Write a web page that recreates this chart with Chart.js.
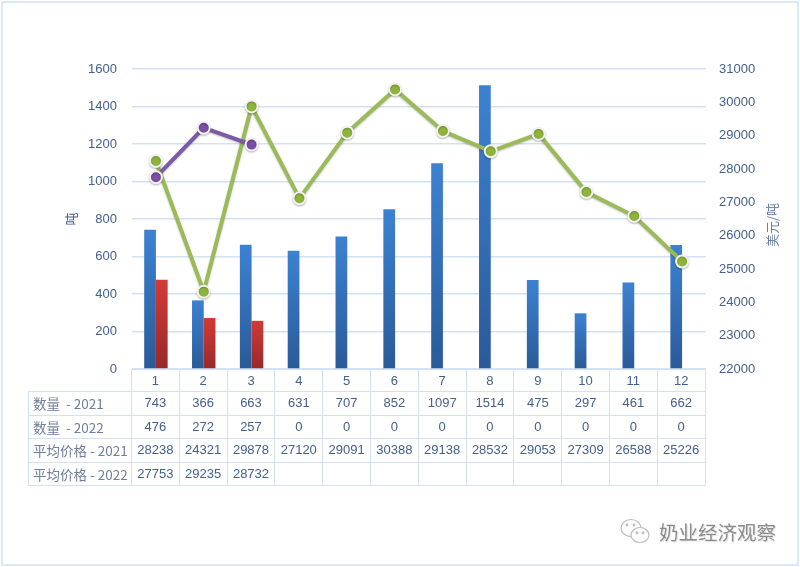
<!DOCTYPE html>
<html>
<head>
<meta charset="utf-8">
<script src="https://cdn.jsdelivr.net/npm/chart.js@4"></script>
<style>
html,body{margin:0;padding:0;background:#fff}
#wrap{position:relative;width:800px;height:567px;overflow:hidden}
#frame{position:absolute;left:1px;top:1px;width:794px;height:561px;border:2px solid #dce8f6}
#c{position:absolute;left:0;top:0}
#tbl{position:absolute;left:28px;top:369px;border-collapse:collapse;table-layout:fixed;font:13px/16px "Liberation Sans",sans-serif;color:#44608c}
#tbl td{border:1.5px solid #d3e2f3;text-align:center;padding:0;height:23.6px;width:47.8px;box-sizing:border-box;overflow:hidden;white-space:nowrap}
#tbl tr:first-child td{height:22px}
#tbl td.h{width:103px;color:#6f7f97;font-family:"Noto Sans CJK SC",sans-serif;font-size:13.5px;line-height:16px;text-align:left;white-space:pre;padding:0 0 0 4px}
#tbl td.e{border-top:0;border-left:0}
#rt{position:absolute;left:742px;top:215px;width:60px;text-align:center;transform:rotate(-90deg);color:#6a82a6;font:13px "Noto Sans CJK SC",sans-serif;line-height:20px}
#mark{position:absolute;left:620px;top:517px;display:flex;align-items:center;color:#8c8c8c;font:19.5px "Noto Sans CJK SC",sans-serif;text-shadow:1px 1px 1px #ddd}
#mark svg{margin-right:7px}
</style>
</head>
<body>
<div id="wrap">
<div id="frame"></div>
<canvas id="c" width="800" height="567"></canvas>
<div id="rt">美元/吨</div>
<table id="tbl"></table>
<div id="mark">
<svg width="32" height="28" viewBox="0 0 32 28" fill="#fff" stroke="#bdbdbd" stroke-width="1.2"><ellipse cx="11" cy="10" rx="10" ry="8.5"/><ellipse cx="20" cy="17" rx="9" ry="7.5"/><circle cx="17" cy="15" r=".8"/><circle cx="23" cy="15" r=".8"/><circle cx="7" cy="7" r=".8"/><circle cx="14" cy="7" r=".8"/></svg>
<span>奶业经济观察</span>
</div>
</div>
<script>
const months=['1','2','3','4','5','6','7','8','9','10','11','12'];
const qty2021=[743,366,663,631,707,852,1097,1514,475,297,461,662];
const qty2022=[476,272,257,0,0,0,0,0,0,0,0,0];
const price2021=[28238,24321,29878,27120,29091,30388,29138,28532,29053,27309,26588,25226];
const price2022=[27753,29235,28732,null,null,null,null,null,null,null,null,null];

// 막대 그라데이션
function barFill(top,bottom){
  return c=>{
    const el=c.element;
    if(!el||!c.chart.chartArea)return top;
    const base=c.chart.scales.y.getPixelForValue(0);
    const y=c.chart.scales.y.getPixelForValue(c.parsed.y);
    const g=c.chart.ctx.createLinearGradient(0,y,0,base);
    g.addColorStop(0,top);g.addColorStop(1,bottom);
    return g;
  };
}

const lineShadow={id:'lineShadow',
  beforeDatasetDraw(ch,a){if(a.meta.type==='line'){ch.ctx.save();ch.ctx.shadowColor='rgba(0,0,0,.25)';ch.ctx.shadowBlur=2;ch.ctx.shadowOffsetY=1;}},
  afterDatasetDraw(ch,a){if(a.meta.type==='line')ch.ctx.restore();}
};

new Chart(document.getElementById('c'),{
  data:{labels:months,datasets:[
    {type:'line',label:'平均价格 - 2022',data:price2022,yAxisID:'y1',order:1,borderColor:'#7b5aa6',borderWidth:4,pointBackgroundColor:'#7b4fa3',pointBorderColor:'#f2f2f2',pointBorderWidth:2,pointRadius:6,spanGaps:false},
    {type:'line',label:'平均价格 - 2021',data:price2021,yAxisID:'y1',order:2,borderColor:'#9bbb59',borderWidth:4,pointBackgroundColor:'#8fb43a',pointBorderColor:'#f2f2f2',pointBorderWidth:2,pointRadius:6},
    {type:'bar',label:'数量 - 2021',data:qty2021,yAxisID:'y',order:3,backgroundColor:barFill('#3c82d2','#2a5a98'),barPercentage:1,categoryPercentage:.49},
    {type:'bar',label:'数量 - 2022',data:qty2022,yAxisID:'y',order:4,backgroundColor:barFill('#d23a36','#98292a'),barPercentage:1,categoryPercentage:.49}
  ]},
  plugins:[lineShadow],
  options:{responsive:false,animation:false,
    layout:{padding:{top:69,bottom:198}},
    plugins:{legend:{display:false},tooltip:{enabled:false}},
    scales:{
      x:{display:false,grid:{display:false}},
      y:{position:'left',min:0,max:1600,ticks:{stepSize:200,padding:15,color:'#44608c',font:{size:13,family:'Liberation Sans'},callback:v=>v},
        grid:{color:'#d3e2f3',lineWidth:1.5,drawTicks:false},border:{display:false},
        title:{display:true,text:'吨',color:'#44608c',font:{size:13,family:'Noto Sans CJK SC'},padding:{top:63,bottom:0}},
        afterFit(s){s.width=132;}},
      y1:{position:'right',min:22000,max:31000,ticks:{stepSize:1000,padding:13,color:'#44608c',font:{size:13,family:'Liberation Sans'},callback:v=>v},
        grid:{display:false,drawTicks:false},border:{display:false},
        afterFit(s){s.width=94;}}
    }
  }
});

// 데이터 표
const rows=[['',months],['数量  - 2021',qty2021],['数量  - 2022',qty2022],['平均价格 - 2021',price2021],['平均价格 - 2022',price2022]];
document.getElementById('tbl').innerHTML=rows.map((r,i)=>
  `<tr><td class="${i?'h':'h e'}">${r[0]}</td>`+
  r[1].map(v=>`<td>${v===null?'':v}</td>`).join('')+'</tr>').join('');
</script>
</body>
</html>
